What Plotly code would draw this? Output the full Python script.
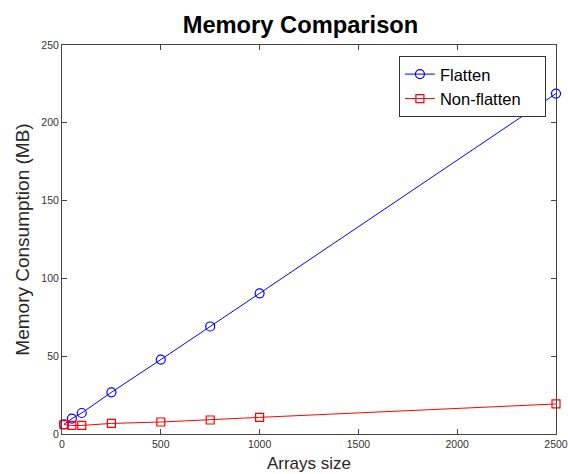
import plotly.graph_objects as go

sizes = [10, 50, 100, 250, 500, 750, 1000, 2500]
flatten_mb = [6.2, 9.9, 13.5, 26.8, 47.8, 69.1, 90.4, 218.8]
non_flatten_mb = [6.0, 5.5, 5.5, 6.8, 7.7, 9.0, 10.7, 19.3]

fig = go.Figure()
fig.add_trace(go.Scatter(
    x=sizes, y=flatten_mb, mode="lines+markers", name="Flatten", cliponaxis=False,
    line=dict(color="#0000ff", width=1),
    marker=dict(symbol="circle-open", size=9, color="#0000ff", line=dict(width=1.2)),
))
fig.add_trace(go.Scatter(
    x=sizes, y=non_flatten_mb, mode="lines+markers",
    name="Non-flatten\u00a0\u00a0\u00a0\u00a0", cliponaxis=False,
    line=dict(color="#ff0000", width=1),
    marker=dict(symbol="square-open", size=8, color="#ff0000", line=dict(width=1.2)),
))

axis_style = dict(
    showline=True, linecolor="#444444", linewidth=1, mirror="ticks",
    ticks="inside", ticklen=5, tickcolor="#444444", showgrid=False, zeroline=False,
    automargin=False, ticklabeloverflow="allow",
    tickfont=dict(family="Liberation Sans, Arial", size=10.5, color="#333333"),
)
fig.update_layout(
    title=dict(text="<b>Memory Comparison</b>", x=0.529, xanchor="center",
               y=0.947, yanchor="middle",
               font=dict(family="Liberation Sans, Arial", size=23.7, color="black")),
    xaxis=dict(range=[0, 2500], tickvals=[0, 500, 1000, 1500, 2000, 2500],
               title=dict(text="Arrays size", standoff=8,
                          font=dict(family="Liberation Sans, Arial", size=17, color="#262626")),
               **axis_style),
    yaxis=dict(range=[0, 250], tickvals=[0, 50, 100, 150, 200, 250],
               title=dict(text="Memory Consumption (MB)", standoff=6,
                          font=dict(family="Liberation Sans, Arial", size=19, color="#262626")),
               **axis_style),
    legend=dict(x=0.682, y=0.972, xanchor="left", yanchor="top",
                bordercolor="#333333", borderwidth=1, bgcolor="white",
                font=dict(family="Liberation Sans, Arial", size=16.5, color="black"),
                tracegroupgap=0, itemwidth=30),
    plot_bgcolor="white", paper_bgcolor="white",
    width=568, height=474,
    margin=dict(l=62, r=12, t=45, b=40),
    showlegend=True,
)

fig.write_html("out.html", config={"displayModeBar": False},
               post_script="document.body.style.margin='0';")
